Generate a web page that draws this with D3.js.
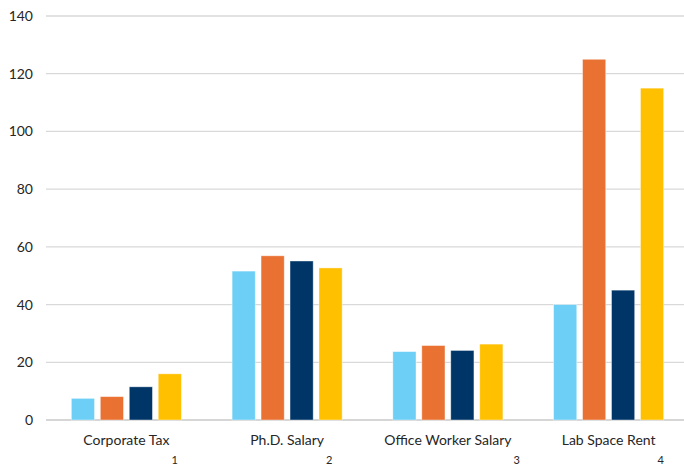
<!DOCTYPE html>
<html><head><meta charset="utf-8">
<script src="https://cdn.jsdelivr.net/npm/d3@7"></script>
<style>
body{margin:0;background:#fff;}
svg text{font-family:Lato,"Open Sans",sans-serif;fill:#262626;}
</style></head>
<body><svg id="c" width="684" height="465"></svg>
<script>
const categories = ["Corporate Tax","Ph.D. Salary","Office Worker Salary","Lab Space Rent"];
const subLabels = ["1","2","3","4"];
const seriesNames = ["S1","S2","S3","S4"];
const s1 = [7.5, 51.6, 23.7, 40.0];
const s2 = [8.1, 56.9, 25.8, 125.0];
const s3 = [11.5, 55.1, 24.1, 45.0];
const s4 = [16.0, 52.7, 26.3, 115.0];
const yTicks = [0,20,40,60,80,100,120,140];
const colors = ["#6DCFF6","#E97132","#003567","#FFC000"];

const series = [s1,s2,s3,s4];
const svg = d3.select("#c");
const x = d3.scaleBand().domain(categories).range([46,689]);
const xi = d3.scaleBand().domain(seriesNames).range([0,x.bandwidth()]).paddingInner(0.2).paddingOuter(0.875);
const y = d3.scaleLinear().domain([0,140]).range([420,16]);

// gridlines
svg.append("g").selectAll("line").data(yTicks).join("line")
  .attr("x1",46).attr("x2",684)
  .attr("y1",d=>y(d)).attr("y2",d=>y(d))
  .attr("stroke",d=>d===0?"#c8c8c8":"#d9d9d9").attr("stroke-width",1.3);

// y axis labels
const yAxis = d3.axisLeft(y).tickValues(yTicks).tickSize(0).tickPadding(0);
const ga = svg.append("g").attr("transform","translate(33,0)").call(yAxis);
ga.select(".domain").remove();
ga.selectAll("text").style("font-size","14px").attr("fill","#262626");

// bars
categories.forEach((c,i)=>{
  const g = svg.append("g").attr("transform",`translate(${x(c)},0)`);
  g.selectAll("rect").data(series.map((s,k)=>({k,v:s[i]}))).join("rect")
    .attr("x",d=>xi(seriesNames[d.k])).attr("width",xi.bandwidth())
    .attr("y",d=>y(d.v)).attr("height",d=>y(0)-y(d.v))
    .attr("fill",d=>colors[d.k]).attr("stroke","#ffffff").attr("stroke-opacity",0.5).attr("stroke-width",0.8);
});

// category labels
const labs = svg.append("g").selectAll("text").data(categories).join("text")
  .attr("x",d=>x(d)+x.bandwidth()/2).attr("y",445)
  .attr("text-anchor","middle").style("font-size","14px").text(d=>d);

labs.each(function(d,i){
  const w = this.getComputedTextLength();
  svg.append("text").attr("x",x(d)+x.bandwidth()/2+w/2+2).attr("y",464)
    .style("font-size","11px").text(subLabels[i]);
});
</script></body></html>
